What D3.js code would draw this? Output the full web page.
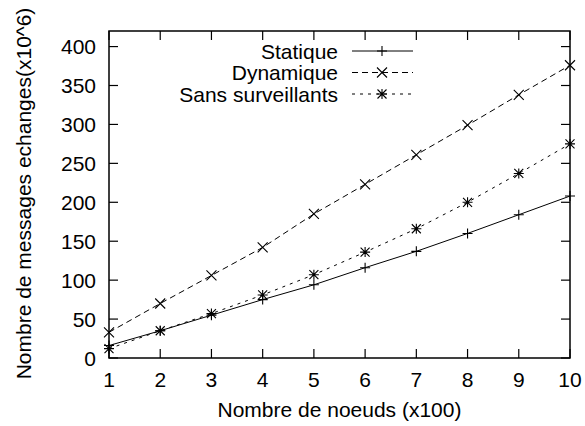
<!DOCTYPE html>
<html>
<head>
<meta charset="utf-8">
<script src="https://cdn.jsdelivr.net/npm/d3@7"></script>
<style>
	body { margin: 0; background: #fff; }
	svg text { font-family: "Liberation Sans", Arial, sans-serif; font-size: 21px; fill: #000; }
</style>
</head>
<body>
<svg id="chart"></svg>
<script>
// data
const noeuds = [1, 2, 3, 4, 5, 6, 7, 8, 9, 10];
const statique = [16, 35, 55, 75, 94, 116, 137, 160, 184, 208];
const dynamique = [33, 70, 106, 142, 185, 223, 261, 299, 338, 376];
const sansSurv = [12, 35, 57, 81, 107, 136, 166, 200, 237, 275];
const yTicks = [0, 50, 100, 150, 200, 250, 300, 350, 400];

const W = 585, H = 426;
const margin = { top: 31, right: 15, bottom: 68, left: 109 };

const svg = d3.select('#chart').attr('width', W).attr('height', H);

const x = d3.scaleLinear().domain([1, 10]).range([margin.left, W - margin.right]);
const y = d3.scaleLinear().domain([0, 420]).range([H - margin.bottom, margin.top]);

const tickLen = 9;

// ticks (inward, mirrored on top and right)
const ticks = svg.append('g').attr('stroke', '#000').attr('stroke-width', 1.2);
noeuds.forEach(v => {
	ticks.append('line').attr('x1', x(v)).attr('x2', x(v))
		.attr('y1', y(0)).attr('y2', y(0) - tickLen);
	ticks.append('line').attr('x1', x(v)).attr('x2', x(v))
		.attr('y1', y(420)).attr('y2', y(420) + tickLen);
});
yTicks.forEach(v => {
	ticks.append('line').attr('x1', x(1)).attr('x2', x(1) + tickLen)
		.attr('y1', y(v)).attr('y2', y(v));
	ticks.append('line').attr('x1', x(10)).attr('x2', x(10) - tickLen)
		.attr('y1', y(v)).attr('y2', y(v));
});

// tick labels
svg.append('g').selectAll('text').data(noeuds).join('text')
	.attr('x', d => x(d)).attr('y', y(0) + 29)
	.attr('text-anchor', 'middle')
	.text(d => d);
svg.append('g').selectAll('text').data(yTicks).join('text')
	.attr('x', x(1) - 13).attr('y', d => y(d) + 7.5)
	.attr('text-anchor', 'end')
	.text(d => d);

// axis titles
svg.append('text')
	.attr('x', (x(1) + x(10)) / 2).attr('y', H - 9)
	.attr('text-anchor', 'middle')
	.text('Nombre de noeuds (x100)');
svg.append('text')
	.attr('transform', `translate(31, ${(y(0) + y(420)) / 2 - 1}) rotate(-90)`)
	.attr('text-anchor', 'middle')
	.text('Nombre de messages echanges(x10^6)');

// markers
function marker(g, type, cx, cy) {
	const r = 5;
	const p = d3.path();
	if (type === 'plus' || type === 'star') {
		p.moveTo(cx - r, cy); p.lineTo(cx + r, cy);
		p.moveTo(cx, cy - r); p.lineTo(cx, cy + r);
	}
	if (type === 'cross' || type === 'star') {
		const s = type === 'star' ? 4.5 : 5;
		p.moveTo(cx - s, cy - s); p.lineTo(cx + s, cy + s);
		p.moveTo(cx - s, cy + s); p.lineTo(cx + s, cy - s);
	}
	g.append('path').attr('d', p.toString())
		.attr('stroke', '#000').attr('stroke-width', 1.1).attr('fill', 'none');
}

const series = [
	{ name: 'Statique', values: statique, dash: null, type: 'plus' },
	{ name: 'Dynamique', values: dynamique, dash: '6,4', type: 'cross' },
	{ name: 'Sans surveillants', values: sansSurv, dash: '3,5', type: 'star' }
];

const line = d3.line().x(d => x(d[0])).y(d => y(d[1]));

series.forEach(s => {
	const pts = noeuds.map((n, i) => [n, s.values[i]]);
	svg.append('path').datum(pts)
		.attr('d', line)
		.attr('fill', 'none').attr('stroke', '#000').attr('stroke-width', 1)
		.attr('stroke-dasharray', s.dash);
	const g = svg.append('g');
	pts.forEach(p => marker(g, s.type, x(p[0]), y(p[1])));
});

// legend
const legend = svg.append('g');
series.forEach((s, i) => {
	const ly = 51 + i * 21.5;
	legend.append('text').attr('x', 338).attr('y', ly + 7.5)
		.attr('text-anchor', 'end').text(s.name);
	legend.append('line').attr('x1', 352).attr('x2', 413)
		.attr('y1', ly).attr('y2', ly)
		.attr('stroke', '#000').attr('stroke-width', 1)
		.attr('stroke-dasharray', s.dash);
	marker(legend, s.type, 382, ly);
});

// border
svg.append('rect')
	.attr('x', x(1)).attr('y', y(420))
	.attr('width', x(10) - x(1)).attr('height', y(0) - y(420))
	.attr('fill', 'none').attr('stroke', '#000').attr('stroke-width', 1.5);
</script>
</body>
</html>
